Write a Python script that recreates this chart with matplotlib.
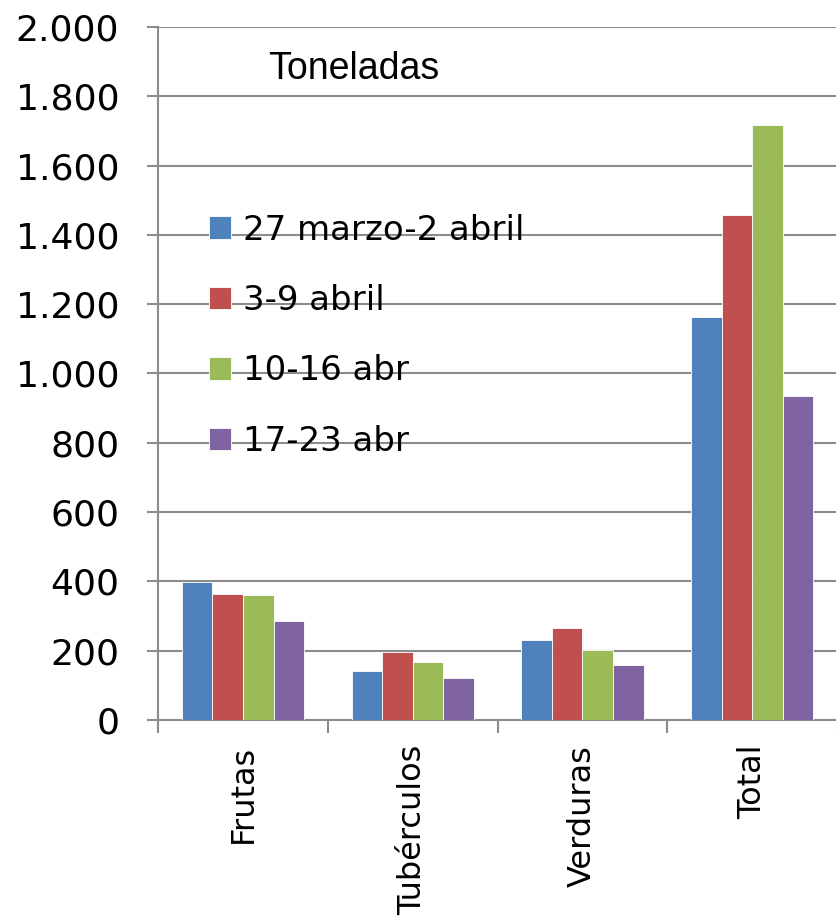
import numpy as np
import matplotlib
matplotlib.use("Agg")
import matplotlib.pyplot as plt
from matplotlib.ticker import FuncFormatter

categorias = ["Frutas", "Tubérculos", "Verduras", "Total"]
semanas = ["27 marzo-2 abril", "3-9 abril", "10-16 abr", "17-23 abr"]
sem1 = [397, 141, 231, 1162]
sem2 = [364, 196, 266, 1458]
sem3 = [360, 167, 202, 1716]
sem4 = [286, 122, 158, 934]
colores = ["#4F81BD", "#C0504D", "#9BBB59", "#8064A2"]

plt.rcParams['font.family'] = ['DejaVu Sans']

fig = plt.figure(figsize=(8.37, 9.18), dpi=100)
ax = fig.add_axes([0.189, 0.2157, 0.811, 0.7549])

x = np.arange(len(categorias))
ancho = 0.18
series = [sem1, sem2, sem3, sem4]
for i, vals in enumerate(series):
    ax.bar(x + (i - 1.5) * ancho, vals, ancho, color=colores[i],
           edgecolor="white", linewidth=0.6, label=semanas[i], zorder=3)

ax.set_ylim(0, 2000)
ax.set_xlim(-0.5, 3.5)
ax.set_yticks(np.arange(0, 2001, 200))
ax.yaxis.set_major_formatter(FuncFormatter(lambda v, p: f"{int(v):,}".replace(",", ".")))
ax.grid(axis="y", color="#8c8c8c", linewidth=1.5, zorder=0)
ax.set_axisbelow(True)

for s in ["top", "right"]:
    ax.spines[s].set_visible(False)
for s in ["left", "bottom"]:
    ax.spines[s].set_color("#8c8c8c")
    ax.spines[s].set_linewidth(1.5)

ax.set_xticks(x)
ax.set_xticklabels(categorias, rotation=90, fontsize=23)
ax.set_xticks(np.arange(-0.5, 4.0, 1.0), minor=True)
ax.tick_params(axis="x", which="major", length=0, pad=18)
ax.tick_params(axis="x", which="minor", length=9, width=1.5, color="#8c8c8c")
ax.tick_params(axis="y", labelsize=26, length=8, width=1.5, color="#8c8c8c", pad=20)

ax.text(0.162, 0.94, "Toneladas", transform=ax.transAxes, fontsize=27,
        family="Liberation Sans", va="center")

leg = ax.legend(loc="upper left", bbox_to_anchor=(0.03, 0.775), frameon=False,
                fontsize=24.5, handlelength=0.65, handleheight=0.65,
                labelspacing=1.1, handletextpad=0.35)

fig.savefig("out.png", dpi=100)
